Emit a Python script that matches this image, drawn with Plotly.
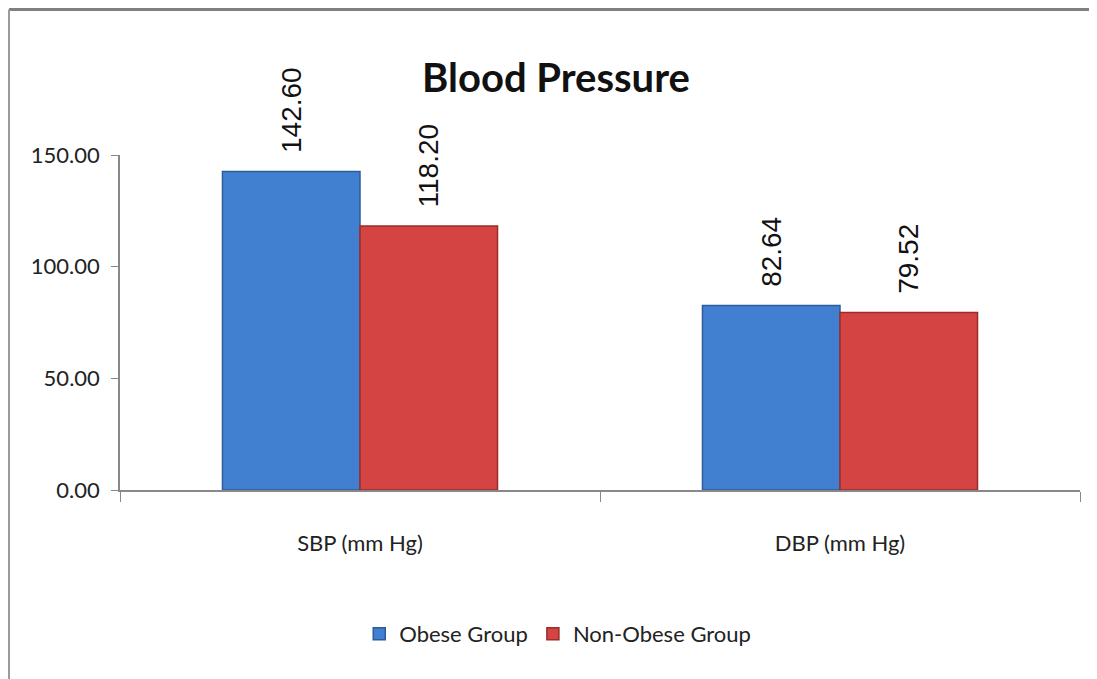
import plotly.graph_objects as go

categories = ["SBP (mm Hg)", "DBP (mm Hg)"]
obese = [142.60, 82.64]
non_obese = [118.20, 79.52]
series_names = ["Obese Group", "Non-Obese Group"]
y_ticks = [0, 50, 100, 150]

narrow = "Liberation Sans Narrow, Lato, Arial, sans-serif"
label_font = dict(family="Liberation Sans, Arial, sans-serif", size=28, color="#111")
pad = "\u00a0\u00a0"

fig = go.Figure()
fig.add_trace(go.Bar(
    x=categories, y=obese, name=series_names[0],
    marker=dict(color="#4180D0", line=dict(color="#2C5C9A", width=1.5)),
    texttemplate=pad + "%{y:.2f}", textposition="outside", textangle=-90,
    textfont=label_font, cliponaxis=False,
))
fig.add_trace(go.Bar(
    x=categories, y=non_obese, name=series_names[1],
    marker=dict(color="#D44442", line=dict(color="#9A2C2A", width=1.5)),
    texttemplate=pad + "%{y:.2f}", textposition="outside", textangle=-90,
    textfont=label_font, cliponaxis=False,
))

fig.update_layout(
    width=1097, height=679,
    margin=dict(l=112, r=25, t=147, b=197),
    paper_bgcolor="white", plot_bgcolor="white",
    barmode="group", bargap=0.427, bargroupgap=0,
    title=dict(text="<b>Blood Pressure</b>", x=0.4995, xref="container", xanchor="center",
               y=0.897, yref="container", yanchor="middle",
               font=dict(family=narrow, size=40, color="#111")),
    legend=dict(orientation="h", x=0.456, xanchor="center", y=-0.43, yanchor="middle",
                font=dict(family=narrow, size=22, color="#222"), itemwidth=30,
                traceorder="normal"),
    uniformtext=dict(mode=False),
)
fig.update_xaxes(
    showline=True, linecolor="#888", linewidth=1.5,
    ticks="outside", tickson="boundaries", ticklen=10, tickcolor="#888",
    tickfont=dict(family=narrow, size=22, color="#222"),
    ticklabelstandoff=33, showgrid=False,
)
fig.update_yaxes(
    range=[0, 150], tickvals=y_ticks, tickformat=".2f",
    showline=True, linecolor="#888", linewidth=1.5,
    ticks="outside", ticklen=7, tickcolor="#888",
    tickfont=dict(family=narrow, size=22, color="#222"),
    ticklabelstandoff=7, showgrid=False, zeroline=False,
)

# chart frame (top and left border)
fig.add_shape(type="line", xref="paper", yref="paper", x0=-0.1156, x1=1.05, y0=1.434, y1=1.434,
              line=dict(color="#808080", width=3), layer="above")
fig.add_shape(type="line", xref="paper", yref="paper", x0=-0.1156, x1=-0.1156, y0=1.434, y1=-0.6,
              line=dict(color="#9a9a9a", width=2), layer="above")

fig.write_html("out.html")
